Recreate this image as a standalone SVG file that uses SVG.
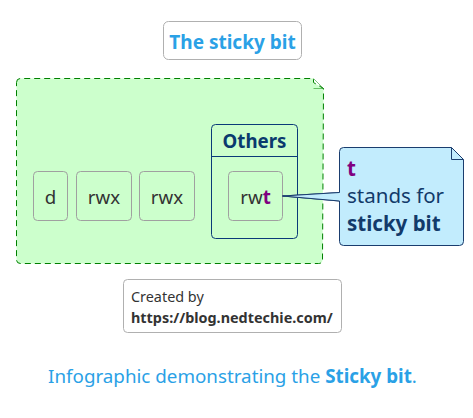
<svg xmlns="http://www.w3.org/2000/svg" width="473" height="418" viewBox="0 0 473 418">
<style>
text{font-family:"Noto Sans","Open Sans","DejaVu Sans",sans-serif}
.perm{fill:none;stroke:#a0a0a0;stroke-width:1}
.pt{font-size:18.7px;fill:#333333;text-anchor:middle}
.blue{fill:#2aa1e6}
.b{font-weight:bold}
</style>
<rect width="473" height="418" fill="#ffffff"/>
<g id="title">
<rect x="163.5" y="21.5" width="138" height="38" rx="5" fill="#ffffff" stroke="#b0b0b0"/>
<text x="232.5" y="48.5" font-size="19" font-weight="bold" class="blue" text-anchor="middle">The sticky bit</text>
</g>
<g id="package">
<path d="M16.5 82.5 Q16.5 78.5 20.5 78.5 L313.5 78.5 L313.5 82.5 L323.5 88.5 L322.5 259.5 Q322.5 263.5 318.5 263.5 L20.5 263.5 Q16.5 263.5 16.5 259.5 Z" fill="#ccffcc" stroke="#008000" stroke-dasharray="6 4"/>
<path d="M313.5 78.5 L323.5 88.5 L313.5 88.5" fill="none" stroke="#008000" stroke-width="0.5"/>
</g>
<g id="d">
<rect x="33.5" y="171.5" width="34" height="49" rx="4" class="perm"/>
<text x="50.5" y="203.5" class="pt">d</text>
</g>
<g id="user">
<rect x="76.5" y="171.5" width="55" height="49" rx="4" class="perm"/>
<text x="104" y="203.5" class="pt">rwx</text>
</g>
<g id="group">
<rect x="139.5" y="171.5" width="55" height="49" rx="4" class="perm"/>
<text x="167" y="203.5" class="pt">rwx</text>
</g>
<g id="others">
<rect x="211.5" y="124.5" width="86" height="114" rx="4" fill="none" stroke="#0a3a78"/>
<line x1="211.5" y1="156.5" x2="297.5" y2="156.5" stroke="#0a3a78"/>
<text x="254.5" y="148" font-size="18.7" font-weight="bold" fill="#0a3a6e" text-anchor="middle">Others</text>
</g>
<g id="rwt">
<rect x="228.5" y="171.5" width="54" height="49" rx="4" class="perm"/>
<text x="255.5" y="203.5" class="pt">rw<tspan font-weight="bold" fill="#800080">t</tspan></text>
</g>
<g id="connectors">
<path d="M282.5 196 L339.5 192.5 L339.5 201 Z" fill="#c2ecfd" stroke="#1a3d6e" stroke-width="1"/>
</g>
<g id="note">
<path d="M343.5 147.5 L451.5 147.5 L463.5 159.5 L463.5 241.5 Q463.5 245.5 459.5 245.5 L343.5 245.5 Q339.5 245.5 339.5 241.5 L339.5 201 L282.5 196 L339.5 192.5 L339.5 151.5 Q339.5 147.5 343.5 147.5 Z" fill="#c2ecfd" stroke="#1a3d6e"/>
<path d="M451.5 147.5 L451.5 159.5 L463.5 159.5" fill="none" stroke="#1a3d6e"/>
<text x="347" y="175.5" font-size="20.5" font-weight="bold" fill="#800080">t</text>
<text x="347" y="203" font-size="20.5" fill="#123a6a">stands for</text>
<text x="347" y="230.5" font-size="20.5" font-weight="bold" fill="#123a6a">sticky bit</text>
</g>
<g id="credit">
<rect x="123.5" y="279.5" width="218" height="53" rx="4" fill="#ffffff" stroke="#b0b0b0"/>
<text x="131" y="302" font-size="14.4" fill="#333333">Created by</text>
<text x="131" y="323" font-size="14.4" font-weight="bold" fill="#333333">https://blog.nedtechie.com/</text>
</g>
<g id="caption">
<text x="232.5" y="383" font-size="18.8" class="blue" text-anchor="middle">Infographic demonstrating the <tspan font-weight="bold">Sticky bit</tspan>.</text>
</g>
</svg>
